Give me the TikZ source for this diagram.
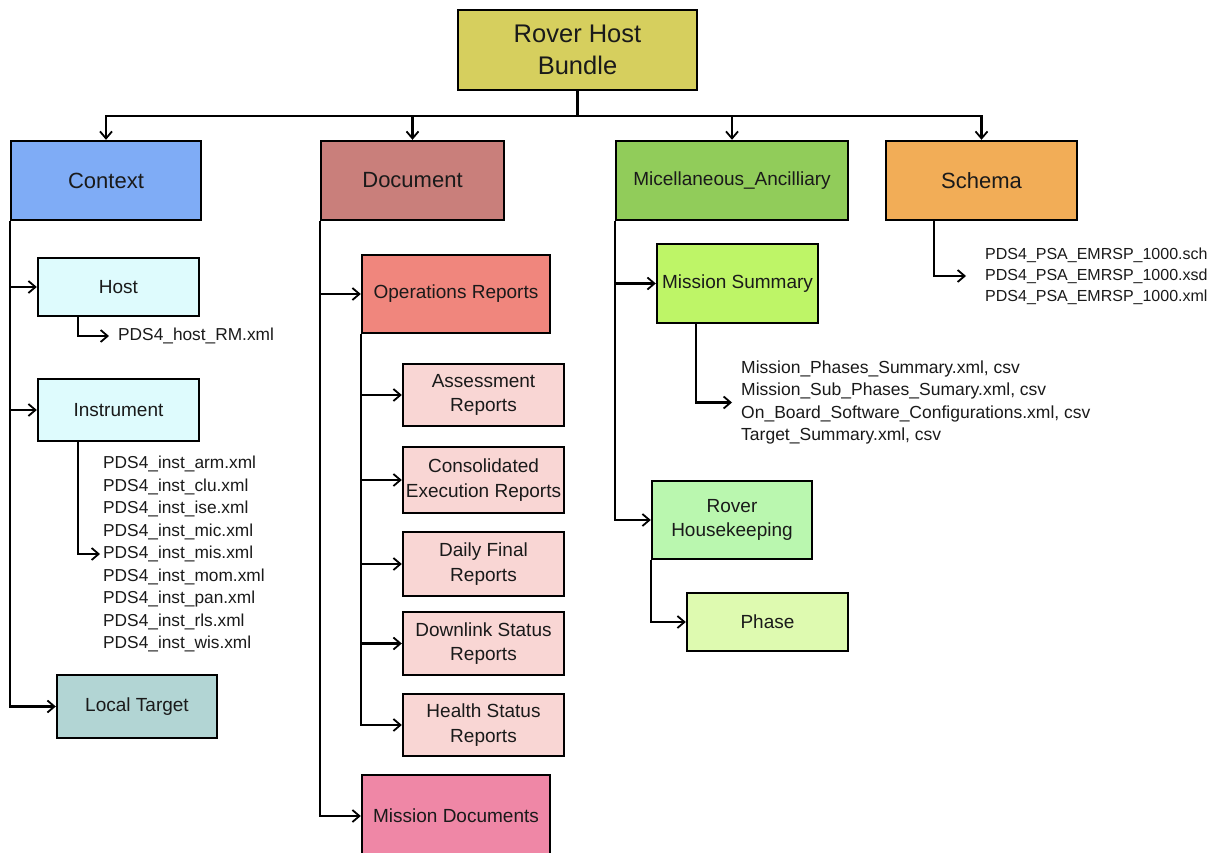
\documentclass[tikz,border=0pt]{standalone}
\usepackage{fontspec}
\setmainfont{Liberation Sans}
\usetikzlibrary{arrows.meta}
\definecolor{cRoot}{HTML}{D6CF5E}
\definecolor{cCtx}{HTML}{7FACF6}
\definecolor{cDoc}{HTML}{C97F7B}
\definecolor{cMisc}{HTML}{91CC5A}
\definecolor{cSch}{HTML}{F2AD57}
\definecolor{cHost}{HTML}{DEFBFD}
\definecolor{cLocal}{HTML}{B2D5D4}
\definecolor{cOps}{HTML}{F0867D}
\definecolor{cRep}{HTML}{F9D6D4}
\definecolor{cMisDoc}{HTML}{EF87A6}
\definecolor{cMS}{HTML}{BEF567}
\definecolor{cRH}{HTML}{BAF7AF}
\definecolor{cPhase}{HTML}{DEFAB0}
\definecolor{txt}{HTML}{1A1A1A}
\tikzset{
  box/.style={draw=black, line width=2.4pt, rectangle, inner sep=0pt, align=center, text=txt},
  big/.style={box, font=\fontsize{22}{25}\selectfont},
  sub/.style={box, font=\fontsize{19}{24.5}\selectfont},
  files/.style={align=left, anchor=west, inner xsep=3pt, inner ysep=0pt, text=txt},
  arr/.style={line width=2.1pt, -{Straight Barb[length=7pt,width=12pt,line width=1.8pt]}},
  ln/.style={line width=2.1pt}
}
\begin{document}
\begin{tikzpicture}[x=1pt,y=-1pt]
\useasboundingbox (0,0) rectangle (1210,853);
\clip (0,0) rectangle (1210,853);
\fill[white] (0,0) rectangle (1210,853);

% level 0
\node[box, fill=cRoot, minimum width=239pt, minimum height=80pt, font=\fontsize{25.5}{32}\selectfont] (root) at (577.5,50) {Rover Host\\Bundle};

% level 1
\node[big, fill=cCtx, minimum width=190pt, minimum height=79pt] (ctx) at (106,180.5) {Context};
\node[big, fill=cDoc, minimum width=183pt, minimum height=79pt] (doc) at (412.5,180.5) {Document};
\node[sub, fill=cMisc, minimum width=232pt, minimum height=79pt] (misc) at (732,180.5) {Micellaneous\_Ancilliary};
\node[big, fill=cSch, minimum width=191pt, minimum height=79pt] (sch) at (981.5,180.5) {Schema};

% Context children
\node[sub, fill=cHost, minimum width=161pt, minimum height=58pt] (host) at (118.5,287) {Host};
\node[sub, fill=cHost, minimum width=161pt, minimum height=62pt] (instr) at (118.5,410) {Instrument};
\node[sub, fill=cLocal, minimum width=160pt, minimum height=63pt] (local) at (137,706.5) {Local Target};

% Document children
\node[sub, fill=cOps, minimum width=188pt, minimum height=78pt] (ops) at (456,294) {Operations Reports};
\node[sub, fill=cRep, minimum width=161pt, minimum height=62pt] (assess) at (483.5,395) {Assessment\\Reports};
\node[sub, fill=cRep, minimum width=161pt, minimum height=66pt] (consol) at (483.5,480) {Consolidated\\Execution Reports};
\node[sub, fill=cRep, minimum width=161pt, minimum height=64pt] (daily) at (483.5,564) {Daily Final\\Reports};
\node[sub, fill=cRep, minimum width=161pt, minimum height=63pt] (down) at (483.5,643.5) {Downlink Status\\Reports};
\node[sub, fill=cRep, minimum width=161pt, minimum height=62pt] (health) at (483.5,725) {Health Status\\Reports};
\node[sub, fill=cMisDoc, minimum width=188pt, minimum height=82pt] (misdoc) at (456,816) {Mission Documents};

% Misc children
\node[sub, fill=cMS, minimum width=161pt, minimum height=79pt] (ms) at (737.5,283.5) {Mission Summary};
\node[sub, fill=cRH, minimum width=160pt, minimum height=78pt] (rh) at (732,520) {Rover\\Housekeeping};
\node[sub, fill=cPhase, minimum width=161pt, minimum height=58pt] (phase) at (767.5,622) {Phase};

% file lists
\node[files, font=\fontsize{17.3}{22}\selectfont] (hostf) at (115,336) {PDS4\_host\_RM.xml};
\node[files, font=\fontsize{17.3}{22.5}\selectfont] (instf) at (100,554) {PDS4\_inst\_arm.xml\\PDS4\_inst\_clu.xml\\PDS4\_inst\_ise.xml\\PDS4\_inst\_mic.xml\\PDS4\_inst\_mis.xml\\PDS4\_inst\_mom.xml\\PDS4\_inst\_pan.xml\\PDS4\_inst\_rls.xml\\PDS4\_inst\_wis.xml};
\node[files, font=\fontsize{17.5}{22.3}\selectfont] (msf) at (738,402.5) {Mission\_Phases\_Summary.xml, csv\\Mission\_Sub\_Phases\_Sumary.xml, csv\\On\_Board\_Software\_Configurations.xml, csv\\Target\_Summary.xml, csv};
\node[files, font=\fontsize{16}{21}\selectfont] (schf) at (982,276) {PDS4\_PSA\_EMRSP\_1000.sch\\PDS4\_PSA\_EMRSP\_1000.xsd\\PDS4\_PSA\_EMRSP\_1000.xml};

% root bus
\draw[ln] (root.south) -- ++(0,25) coordinate (bus);
\draw[arr] (bus) -| (ctx.north);
\draw[arr] (bus) -| (doc.north);
\draw[arr] (bus) -| (misc.north);
\draw[arr] (bus) -| (sch.north);

% context tree
\draw[arr] (ctx.south west) |- (host.west);
\draw[arr] (ctx.south west) |- (instr.west);
\draw[arr] (ctx.south west) |- (local.west);
\draw[arr] ([xshift=41pt]host.south west) |- ([xshift=-6pt]hostf.west);
\draw[arr] ([xshift=41pt]instr.south west) |- (instf.west);

% document tree
\draw[arr] (doc.south west) |- (ops.west);
\draw[arr] (doc.south west) |- (misdoc.west);
\draw[arr] (ops.south west) |- (assess.west);
\draw[arr] (ops.south west) |- (consol.west);
\draw[arr] (ops.south west) |- (daily.west);
\draw[arr] (ops.south west) |- (down.west);
\draw[arr] (ops.south west) |- (health.west);

% misc tree
\draw[arr] (misc.south west) |- (ms.west);
\draw[arr] (misc.south west) |- (rh.west);
\draw[arr] (rh.south west) |- (phase.west);
\draw[arr] ([xshift=40pt]ms.south west) |- ([xshift=-6pt]msf.west);

% schema
\draw[arr] ([xshift=49pt]sch.south west) |- ([xshift=-16pt]schf.west);
\end{tikzpicture}
\end{document}
